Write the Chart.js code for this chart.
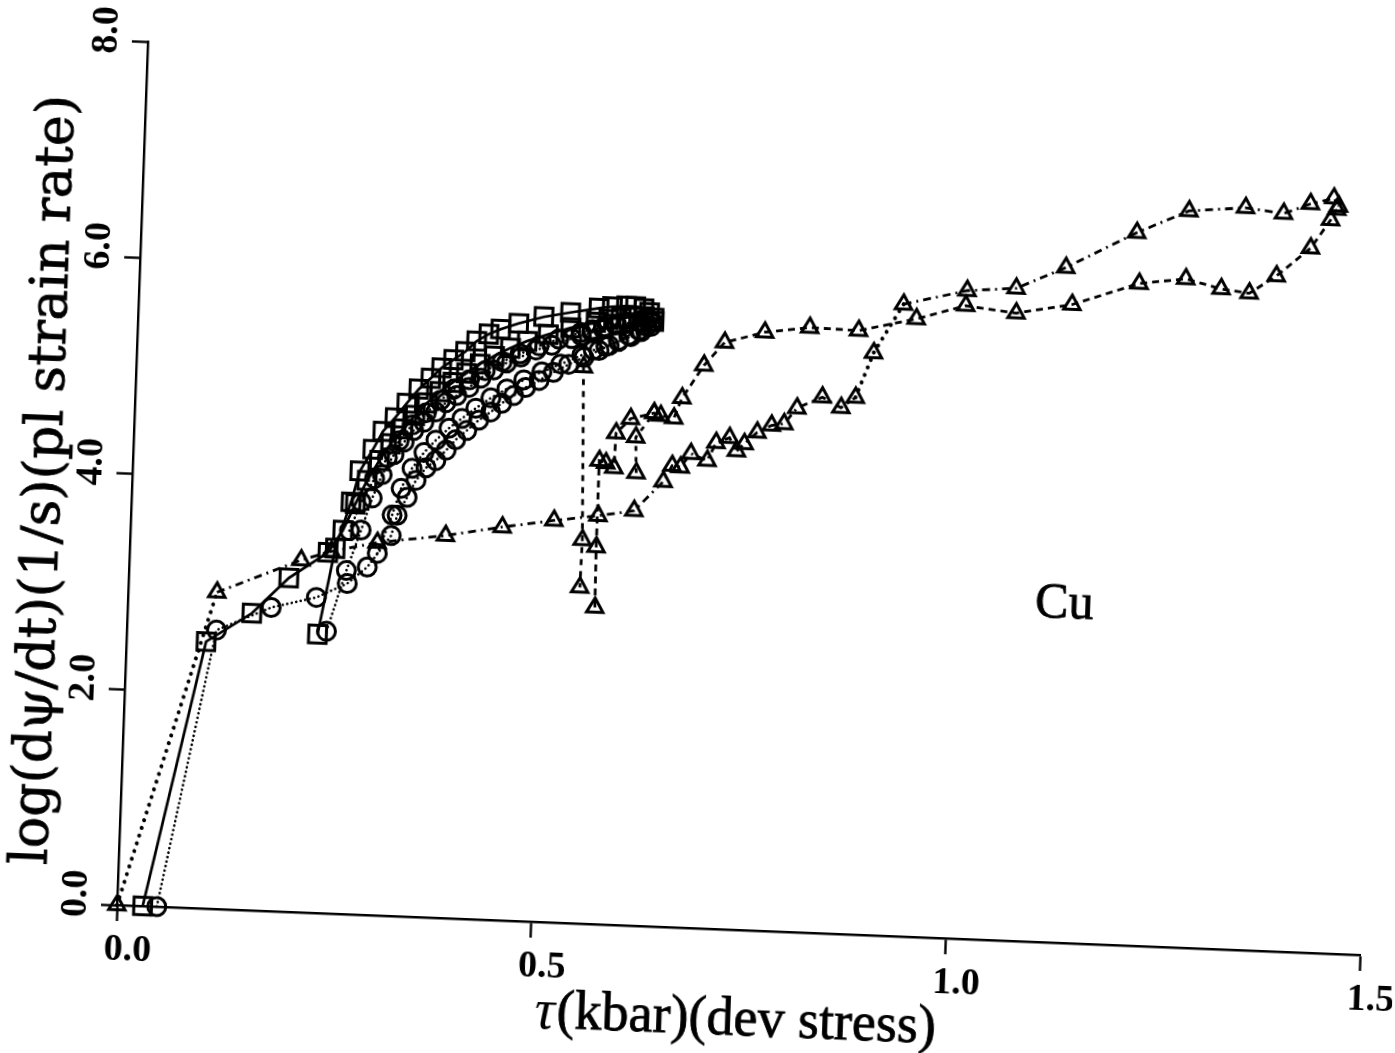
<!DOCTYPE html>
<html lang="pt-BR">
<head>
<meta charset="utf-8">
<title>Cu - taxa de deformação plástica x tensão</title>
<script src="https://cdn.jsdelivr.net/npm/chart.js@4.4.0/dist/chart.umd.min.js"></script>
<style>
  html, body { margin: 0; padding: 0; background: #fff; overflow: hidden; }
  #canvas-cu {
    position: absolute;
    left: 0;
    top: 0;
    /* gráfico inclinado ~2,2 graus em torno da origem dos eixos */
    transform-origin: 117px 905px;
    transform: matrix(0.99919, 0.04013, -0.03577, 0.99936, 0, 0);
  }
</style>
</head>
<body>
<canvas id="canvas-cu" width="1395" height="1053"></canvas>
<script>
// Valores lidos: tau (kbar) e log da taxa de deformação plástica

// Triângulos - série A (sai da origem, linha de baixo, volta pela linha de cima à direita)
const triATau = [0, 0.107, 0.207, 0.243, 0.298, 0.380, 0.448, 0.510, 0.563, 0.606, 0.640, 0.650, 0.660, 0.672, 0.692, 0.702, 0.718, 0.727, 0.736, 0.751, 0.768, 0.783, 0.798, 0.828, 0.851, 0.868, 0.888, 0.922, 0.998, 1.057, 1.116, 1.200, 1.262, 1.330, 1.376, 1.408, 1.436, 1.442];
const triATaxa = [0, 2.93, 3.26, 3.35, 3.45, 3.54, 3.64, 3.72, 3.78, 3.84, 4.12, 4.27, 4.26, 4.39, 4.33, 4.50, 4.55, 4.43, 4.50, 4.61, 4.68, 4.70, 4.85, 4.96, 4.87, 4.97, 5.39, 5.85, 6.00, 6.04, 6.25, 6.60, 6.82, 6.87, 6.83, 6.93, 6.99, 6.92];

// Triângulos - série B (queda vertical perto de 0.54)
const triBTau = [0.539, 0.545, 0.544];
const triBTaxa = [5.15, 3.55, 3.11];

// Triângulos - série C (sobe em 0.56 e segue pela linha de baixo à direita)
const triCTau = [0.563, 0.562, 0.562, 0.570, 0.580, 0.581, 0.598, 0.626, 0.634, 0.650, 0.659, 0.684, 0.708, 0.756, 0.810, 0.869, 0.938, 0.997, 1.058, 1.125, 1.205, 1.261, 1.304, 1.338, 1.370, 1.410, 1.433, 1.440];
const triCTaxa = [2.93, 3.49, 4.29, 4.27, 4.23, 4.55, 4.69, 4.75, 4.73, 4.71, 4.90, 5.21, 5.43, 5.54, 5.60, 5.59, 5.72, 5.86, 5.81, 5.91, 6.13, 6.19, 6.11, 6.08, 6.25, 6.52, 6.79, 6.89];

// Triângulos - série D (trecho curto)
const triDTau = [0.607, 0.605, 0.626];
const triDTaxa = [4.19, 4.52, 4.75];

// Quadrados
const quadATau = [0.031, 0.096, 0.150, 0.193, 0.239, 0.256, 0.270, 0.283, 0.297, 0.310, 0.324, 0.338, 0.352, 0.367, 0.382, 0.398, 0.414, 0.431, 0.450, 0.470, 0.495, 0.522, 0.552, 0.567, 0.582, 0.596, 0.610, 0.622];
const quadATaxa = [0, 2.47, 2.75, 3.09, 3.34, 3.55, 3.80, 4.02, 4.21, 4.37, 4.51, 4.64, 4.76, 4.87, 4.96, 5.05, 5.14, 5.22, 5.30, 5.37, 5.44, 5.51, 5.57, 5.60, 5.62, 5.63, 5.64, 5.60];
const quadBTau = [0.230, 0.2476, 0.2647, 0.274, 0.2888, 0.300, 0.314, 0.3276, 0.3415, 0.3555, 0.368, 0.382, 0.396, 0.409, 0.4234, 0.4376, 0.459, 0.489, 0.521, 0.555, 0.571, 0.588, 0.599, 0.609, 0.616, 0.6216];
const quadBTaxa = [2.58, 3.38, 3.815, 4.105, 4.31, 4.48, 4.61, 4.75, 4.885, 4.99, 5.09, 5.17, 5.25, 5.35, 5.42, 5.47, 5.53, 5.60, 5.65, 5.70, 5.72, 5.73, 5.73, 5.715, 5.68, 5.63];

// Círculos
const circATau = [0.048, 0.108, 0.173, 0.227, 0.2636, 0.287, 0.3145, 0.3208, 0.332, 0.342, 0.3535, 0.365, 0.377, 0.388, 0.401, 0.415, 0.429, 0.442, 0.456, 0.470, 0.486, 0.503, 0.521, 0.539, 0.557, 0.569, 0.580, 0.592, 0.604, 0.613, 0.621];
const circATaxa = [0, 2.58, 2.81, 2.92, 3.06, 3.22, 3.52, 3.71, 3.88, 4.04, 4.16, 4.23, 4.33, 4.43, 4.52, 4.62, 4.70, 4.785, 4.86, 4.94, 5.01, 5.09, 5.17, 5.24, 5.31, 5.36, 5.41, 5.46, 5.51, 5.55, 5.59];
const circBTau = [0.2406, 0.262, 0.278, 0.290, 0.301, 0.3144, 0.326, 0.337, 0.349, 0.363, 0.3747, 0.3876, 0.4017, 0.4158, 0.431, 0.446, 0.463, 0.481, 0.500, 0.5236, 0.535, 0.5475, 0.561, 0.576, 0.590, 0.607, 0.618];
const circBTaxa = [2.61, 3.18, 3.56, 3.86, 4.08, 4.27, 4.39, 4.50, 4.58, 4.68, 4.77, 4.84, 4.92, 5.01, 5.09, 5.16, 5.22, 5.29, 5.34, 5.41, 5.44, 5.475, 5.51, 5.55, 5.57, 5.585, 5.59];
const circCTau = [0.2985, 0.3147, 0.3244, 0.3367, 0.3504, 0.3643, 0.3795, 0.3947, 0.411, 0.4287, 0.4476, 0.4676, 0.489, 0.5115, 0.5365, 0.550, 0.565, 0.580, 0.5947, 0.607, 0.6183];
const circCTaxa = [3.35, 3.71, 3.96, 4.15, 4.30, 4.42, 4.535, 4.63, 4.73, 4.83, 4.92, 5.01, 5.09, 5.17, 5.26, 5.31, 5.35, 5.40, 5.45, 5.50, 5.55];
const circDTau = [0.264, 0.277, 0.292, 0.3065, 0.320, 0.335, 0.3515, 0.368, 0.384, 0.402, 0.4207, 0.4407, 0.462, 0.4846, 0.508, 0.5345, 0.548, 0.562, 0.577, 0.5917, 0.604, 0.6156];
const circDTaxa = [3.55, 3.82, 4.04, 4.24, 4.40, 4.55, 4.67, 4.79, 4.90, 4.99, 5.08, 5.17, 5.25, 5.33, 5.40, 5.47, 5.50, 5.53, 5.56, 5.58, 5.60, 5.62];

// Marcas dos eixos
const ticksX = [0, 0.5, 1.0, 1.5];
const ticksY = [0, 2, 4, 6, 8];

const PRETO = '#000';
const PONTILHADO_GROSSO = [0.1, 8];
const PONTILHADO_FINO = [0.1, 4.5];

// Monta um dataset de linha com marcadores vazados
function montarSerie(taus, taxas, marcador, raio, linha) {
  return {
    data: taus.map((t, i) => ({ x: t, y: taxas[i] })),
    showLine: true,
    clip: false,
    borderColor: PRETO,
    borderWidth: linha.largura,
    borderDash: linha.tracejado,
    borderCapStyle: linha.ponta || 'butt',
    pointStyle: marcador,
    pointRadius: raio,
    pointBackgroundColor: 'rgba(0,0,0,0)',
    pointBorderColor: PRETO,
    pointBorderWidth: 3,
    segment: linha.segmento || {}
  };
}

// Trechos pontilhados com bolinhas grandes na série A
const trechosPontilhadosA = [0, 25, 26];

const datasets = [
  montarSerie(circATau, circATaxa, 'circle', 9, {
    largura: 2.6, tracejado: PONTILHADO_FINO, ponta: 'round'
  }),
  montarSerie(circBTau, circBTaxa, 'circle', 9, {
    largura: 2.6, tracejado: PONTILHADO_FINO, ponta: 'round'
  }),
  montarSerie(circCTau, circCTaxa, 'circle', 9, {
    largura: 2.6, tracejado: PONTILHADO_FINO, ponta: 'round'
  }),
  montarSerie(circDTau, circDTaxa, 'circle', 9, {
    largura: 2.6, tracejado: PONTILHADO_FINO, ponta: 'round'
  }),
  montarSerie(quadATau, quadATaxa, 'rect', 12.5, { largura: 2.7, tracejado: [] }),
  montarSerie(quadBTau, quadBTaxa, 'rect', 12.5, { largura: 2.7, tracejado: [] }),
  montarSerie(triATau, triATaxa, 'triangle', 9.5, {
    largura: 2.8,
    tracejado: [8, 5, 2, 5],
    segmento: {
      borderDash: ctx => trechosPontilhadosA.includes(ctx.p0DataIndex) ? PONTILHADO_GROSSO : undefined,
      borderCapStyle: ctx => trechosPontilhadosA.includes(ctx.p0DataIndex) ? 'round' : undefined,
      borderWidth: ctx => trechosPontilhadosA.includes(ctx.p0DataIndex) ? 4 : undefined
    }
  }),
  montarSerie(triBTau, triBTaxa, 'triangle', 9.5, { largura: 2.8, tracejado: [6, 6] }),
  montarSerie(triCTau, triCTaxa, 'triangle', 9.5, { largura: 2.8, tracejado: [7, 5] }),
  montarSerie(triDTau, triDTaxa, 'triangle', 9.5, { largura: 2.8, tracejado: [5, 6] })
];

// Plugin para os textos que o Chart.js não faz sozinho
const textosGrafico = {
  id: 'textosGrafico',
  afterDraw(chart) {
    const { ctx, scales } = chart;
    const escalaY = scales.y;
    ctx.save();
    ctx.fillStyle = PRETO;
    ctx.strokeStyle = PRETO;

    // Rótulos do eixo y, girados 90 graus
    ctx.font = 'bold 38px "Liberation Serif"';
    ctx.textAlign = 'center';
    ctx.textBaseline = 'middle';
    ticksY.forEach(v => {
      const py = escalaY.getPixelForValue(v);
      ctx.save();
      ctx.translate(escalaY.right - 41, py - 10);
      ctx.rotate(-Math.PI / 2);
      ctx.fillText(v.toFixed(1), 0, 0);
      ctx.restore();
    });

    // Título do eixo y (traço leve para engrossar a letra)
    ctx.save();
    ctx.font = '52px "DejaVu Serif"';
    ctx.lineWidth = 0.8;
    ctx.translate(31, 483);
    ctx.rotate(-Math.PI / 2);
    ctx.fillText('log(dψ/dt)(1/s)(pl strain rate)', 0, 0);
    ctx.strokeText('log(dψ/dt)(1/s)(pl strain rate)', 0, 0);
    ctx.restore();

    // Título do eixo x (tau em itálico)
    const fonteTau = 'italic 56px "Liberation Serif"';
    const fonteResto = '54px "Liberation Serif"';
    const resto = '(kbar)(dev stress)';
    ctx.font = fonteTau;
    const larguraTau = ctx.measureText('τ').width;
    ctx.font = fonteResto;
    const larguraResto = ctx.measureText(resto).width;
    const inicio = 739 - (larguraTau + larguraResto + 2) / 2;
    ctx.textAlign = 'left';
    ctx.lineWidth = 0.8;
    ctx.font = fonteTau;
    ctx.fillText('τ', inicio, 996);
    ctx.font = fonteResto;
    ctx.fillText(resto, inicio + larguraTau + 2, 996);
    ctx.strokeText(resto, inicio + larguraTau + 2, 996);

    // Identificação do material
    ctx.textAlign = 'center';
    ctx.font = '50px "Liberation Serif"';
    ctx.fillText('Cu', 1053, 567);
    ctx.strokeText('Cu', 1053, 567);

    ctx.restore();
  }
};

const configuracao = {
  type: 'scatter',
  data: { datasets },
  options: {
    responsive: false,
    animation: false,
    devicePixelRatio: 1,
    layout: { padding: { top: 41, right: 34, left: 0, bottom: 0 } },
    plugins: {
      legend: { display: false },
      tooltip: { enabled: false }
    },
    scales: {
      x: {
        type: 'linear',
        min: 0,
        max: 1.5,
        afterFit: escala => { escala.height = 148; },
        afterBuildTicks: escala => { escala.ticks = ticksX.map(v => ({ value: v })); },
        ticks: {
          color: PRETO,
          font: { family: 'Liberation Serif', size: 38, weight: 'bold' },
          padding: 6,
          labelOffset: 12,
          maxRotation: 0,
          autoSkip: false,
          callback: v => v.toFixed(1)
        },
        grid: { drawOnChartArea: false, drawTicks: true, tickLength: 16, tickWidth: 2.4, tickColor: PRETO },
        border: { display: true, color: PRETO, width: 2.4 }
      },
      y: {
        type: 'linear',
        min: 0,
        max: 8,
        afterFit: escala => { escala.width = 117; },
        afterBuildTicks: escala => { escala.ticks = ticksY.map(v => ({ value: v })); },
        ticks: { display: false },
        grid: { drawOnChartArea: false, drawTicks: true, tickLength: 16, tickWidth: 2.4, tickColor: PRETO },
        border: { display: true, color: PRETO, width: 2.4 }
      }
    }
  },
  plugins: [textosGrafico]
};

document.addEventListener('DOMContentLoaded', () => {
  new Chart(document.getElementById('canvas-cu'), configuracao);
});
</script>
</body>
</html>
